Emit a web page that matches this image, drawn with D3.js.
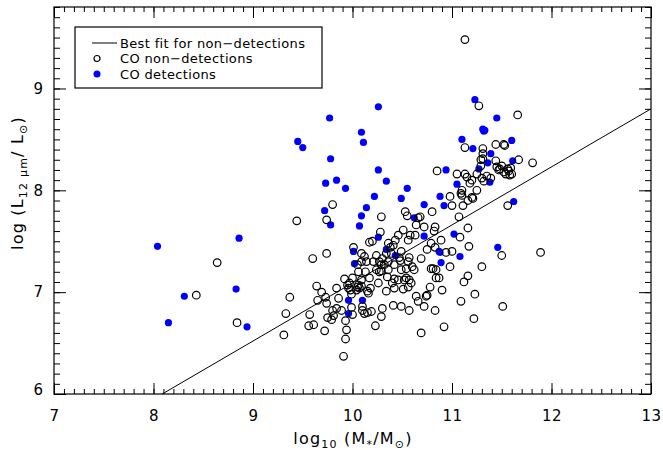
<!DOCTYPE html>
<html>
<head>
<meta charset="utf-8">
<script src="https://d3js.org/d3.v7.min.js"></script>
<style>
  body { margin: 0; background: #fff; }
  svg text { font-family: "DejaVu Sans", sans-serif; fill: #000; }
</style>
</head>
<body>
<svg id="chart" width="663" height="450"></svg>
<script>
const MARGIN = {top: 7, right: 12, bottom: 56, left: 54}
const WIDTH = 663 - MARGIN.left - MARGIN.right
const HEIGHT = 450 - MARGIN.top - MARGIN.bottom

// axis ranges and ticks
const xDomain = [7, 13]
const yDomain = [6, 9.8]
const xTicks = [7, 8, 9, 10, 11, 12, 13]
const yTicks = [6, 7, 8, 9]

// best fit for non-detections: y = slope * x + intercept
const fitSlope = 0.57
const fitIntercept = 1.39

// [log M*, log L12] for CO detections
const detections = [
    [8.04,7.45],[8.15,6.70],[8.31,6.96],[8.83,7.03],[8.86,7.53],[8.94,6.66],
    [9.45,8.48],[9.50,8.42],[9.77,8.71],[9.78,8.31],[9.73,8.07],[9.84,8.10],[9.93,8.02],[9.72,7.80],[9.78,7.66],
    [10.26,8.82],[10.09,8.57],[10.11,8.47],[10.26,8.20],[10.34,8.09],[10.22,7.94],[10.14,7.83],[10.09,7.75],[10.07,7.65],
    [10.55,8.02],[10.49,7.92],[10.62,7.73],[10.26,7.54],[10.34,7.42],[10.43,7.36],[10.01,7.40],[10.02,7.28],
    [9.96,6.92],[10.10,6.92],[9.96,6.79],
    [10.72,7.55],[10.72,7.86],[10.88,7.94],[10.92,7.85],[10.94,8.20],[11.05,8.06],[10.87,7.40],[10.88,7.39],[10.89,7.29],[11.02,7.57],[11.08,7.35],
    [11.10,8.50],[11.23,8.89],[11.21,8.41],[11.31,8.60],[11.33,8.59],[11.32,8.58],[11.45,8.71],[11.60,8.49],[11.39,8.36],[11.36,8.27],
    [11.27,8.21],[11.38,8.08],[11.61,8.29],[11.62,7.89],[11.46,7.44]
]

// [log M*, log L12] for CO non-detections
const nonDetections = [
    [8.43,6.97],[8.64,7.29],[8.84,6.70],[9.31,6.58],[9.33,6.79],[9.37,6.95],[9.44,7.70],[9.56,6.67],[9.57,6.78],[9.60,7.33],
    [9.61,6.68],[9.64,7.06],[9.65,6.92],[9.69,7.00],[9.72,6.62],
    [9.73,6.95],[9.74,6.89],[9.74,7.38],[9.74,7.71],[9.75,6.75],[9.79,6.73],[9.80,7.86],[9.80,6.82],[9.81,6.77],[9.84,7.04],
    [9.84,6.84],[9.86,6.94],[9.89,6.82],[9.92,7.13],[9.93,6.72],[9.94,6.63],[9.93,6.54],[9.91,6.37],[9.95,7.07],[9.96,7.04],
    [9.97,7.09],[9.98,7.02],[9.99,6.85],[10.00,6.78],[10.01,7.44],[10.00,7.14],[9.99,6.98],
    [10.04,7.02],[10.05,7.05],[10.06,7.07],[10.07,7.04],[10.09,7.06],[10.06,7.20],[10.09,7.12],[10.05,7.27],[10.09,7.30],
    [10.09,7.38],[10.12,7.35],[10.13,7.20],[10.14,7.30],[10.17,7.14],[10.15,7.01],[10.16,6.99],[10.18,7.04],[10.10,6.86],
    [10.12,6.79],[10.10,6.82],[10.19,6.81],[10.15,6.80],[10.17,7.49],[10.20,7.50],[10.21,7.30],[10.24,7.36],[10.24,7.22],
    [10.26,7.09],[10.27,7.30],[10.27,7.20],[10.23,6.67],[10.29,6.76],[10.28,7.59],[10.29,7.74],[10.29,7.27],[10.30,7.33],
    [10.32,7.27],[10.34,7.38],[10.34,7.01],[10.36,7.30],[10.36,7.22],[10.36,7.48],[10.38,7.44],[10.39,7.38],[10.41,7.46],
    [10.41,6.87],[10.42,7.27],[10.42,7.13],[10.42,7.04],[10.43,7.51],[10.46,7.56],[10.46,7.12],[10.48,7.31],[10.49,7.40],
    [10.49,7.22],[10.49,6.86],[10.51,7.61],[10.51,7.03],[10.52,7.12],[10.53,7.79],[10.54,7.23],[10.55,7.75],[10.56,7.51],
    [10.56,7.30],[10.56,7.05],[10.57,7.34],[10.57,7.12],[10.57,6.82],[10.58,7.56],[10.59,7.09],[10.62,7.22],[10.63,7.56],
    [10.64,7.66],[10.64,6.96],[10.66,6.91],[10.66,7.73],[10.69,7.33],[10.69,6.60],[10.72,7.64],[10.72,6.86],[10.74,6.96],
    [10.68,7.74],[10.40,7.09],[10.35,7.15],[10.29,7.21],[10.47,7.34],[10.60,7.25],[10.54,7.14],[10.30,6.84],
    [10.75,7.42],[10.75,6.97],[10.78,7.05],[10.79,7.48],[10.79,7.23],[10.80,7.79],[10.81,7.23],[10.82,7.60],[10.83,7.44],
    [10.83,6.82],[10.84,7.14],[10.85,8.19],[10.83,7.64],[10.89,7.51],[10.90,7.02],[10.92,6.66],[10.94,7.39],[10.98,7.94],
    [10.98,7.25],[11.00,7.85],[11.00,7.40],[11.05,8.16],[11.07,7.74],[11.08,7.54],[11.09,7.97],[11.09,6.91],[11.10,8.00],
    [11.10,7.95],[11.11,7.85],[11.12,7.10],[11.13,8.42],[11.13,9.48],[11.13,8.16],[11.15,8.13],[11.16,7.90],[11.16,7.63],
    [11.16,7.16],[11.17,7.45],[11.18,8.07],[11.20,8.10],[11.20,7.93],[11.21,7.92],[11.22,6.74],[11.23,6.98],[11.25,8.16],
    [11.25,8.00],[11.27,8.83],[11.29,8.24],[11.29,8.30],[11.30,8.12],[11.30,7.25],[11.31,8.41],[11.31,8.36],[11.31,8.31],
    [11.32,8.09],[11.35,8.14],[11.39,8.12],[11.44,8.45],[11.44,8.29],[11.45,8.23],[11.48,8.21],[11.50,8.24],[11.50,7.36],
    [11.51,6.86],[11.52,8.45],[11.53,8.44],[11.52,8.18],[11.54,8.16],[11.56,8.21],[11.56,7.85],[11.57,8.19],[11.58,8.15],
    [11.59,8.22],[11.60,8.16],[11.66,8.74],[11.67,8.30],[11.81,8.27],[11.89,7.39],[11.47,8.20],[10.87,7.14],[10.84,7.22]
]

const legendItems = ['Best fit for non\u2212detections', 'CO non\u2212detections', 'CO detections']

let svg = d3.select('#chart')
let g = svg.append('g')
    .attr('transform', 'translate(' + MARGIN.left + ',' + MARGIN.top + ')')

let x = d3.scaleLinear().domain(xDomain).range([0, WIDTH])
let y = d3.scaleLinear().domain(yDomain).range([HEIGHT, 0])

let xMinor = d3.range(70, 131).map(d => d / 10)
let yMinor = d3.range(60, 99).map(d => d / 10)

g.append('clipPath')
    .attr('id', 'plotClip')
    .append('rect')
    .attr('width', WIDTH)
    .attr('height', HEIGHT)

// minor ticks, all four sides, pointing inward
function styleAxis(sel) {
    sel.select('.domain').remove()
    sel.selectAll('.tick line').attr('stroke', '#000').attr('stroke-width', 1)
}

g.append('g').attr('transform', 'translate(0,' + HEIGHT + ')')
    .call(d3.axisBottom(x).tickValues(xMinor).tickSize(-5).tickFormat(''))
    .call(styleAxis)
g.append('g')
    .call(d3.axisTop(x).tickValues(xMinor).tickSize(-5).tickFormat(''))
    .call(styleAxis)
g.append('g')
    .call(d3.axisLeft(y).tickValues(yMinor).tickSize(-6).tickFormat(''))
    .call(styleAxis)
g.append('g').attr('transform', 'translate(' + WIDTH + ',0)')
    .call(d3.axisRight(y).tickValues(yMinor).tickSize(-6).tickFormat(''))
    .call(styleAxis)

// major ticks
let xAxis = g.append('g').attr('transform', 'translate(0,' + HEIGHT + ')')
    .call(d3.axisBottom(x).tickValues(xTicks).tickSize(-11).tickPadding(16).tickFormat(d3.format('d')))
    .call(styleAxis)
xAxis.selectAll('text')
    .style('font-size', '15px')
    .style('letter-spacing', '0.5px')
    .style('font-family', '"DejaVu Sans", sans-serif')

g.append('g')
    .call(d3.axisTop(x).tickValues(xTicks).tickSize(-11).tickFormat(''))
    .call(styleAxis)

let yAxis = g.append('g')
    .call(d3.axisLeft(y).tickValues(yTicks).tickSize(-12).tickPadding(11).tickFormat(d3.format('d')))
    .call(styleAxis)
yAxis.selectAll('text').style('font-size', '15px').style('font-family', '"DejaVu Sans", sans-serif')
yAxis.selectAll('.tick').filter(d => d === yDomain[0]).select('text').attr('dy', '0.0em')

g.append('g').attr('transform', 'translate(' + WIDTH + ',0)')
    .call(d3.axisRight(y).tickValues(yTicks).tickSize(-12).tickFormat(''))
    .call(styleAxis)

// frame
g.append('rect')
    .attr('width', WIDTH)
    .attr('height', HEIGHT)
    .attr('fill', 'none')
    .attr('stroke', '#000')
    .attr('stroke-width', 1.2)

// best fit line
g.append('line')
    .attr('clip-path', 'url(#plotClip)')
    .attr('x1', x(xDomain[0]))
    .attr('y1', y(fitSlope * xDomain[0] + fitIntercept))
    .attr('x2', x(xDomain[1]))
    .attr('y2', y(fitSlope * xDomain[1] + fitIntercept))
    .attr('stroke', '#000')
    .attr('stroke-width', 1)

// CO detections
g.append('g')
    .selectAll('circle')
    .data(detections)
    .enter()
    .append('circle')
    .attr('cx', d => x(d[0]))
    .attr('cy', d => y(d[1]))
    .attr('r', 3.6)
    .attr('fill', '#0000ff')

// CO non-detections
g.append('g')
    .selectAll('circle')
    .data(nonDetections)
    .enter()
    .append('circle')
    .attr('cx', d => x(d[0]))
    .attr('cy', d => y(d[1]))
    .attr('r', 3.8)
    .attr('fill', 'none')
    .attr('stroke', '#000')
    .attr('stroke-width', 1.2)

// legend
let legend = svg.append('g').attr('transform', 'translate(75,27)')
legend.append('rect')
    .attr('width', 247)
    .attr('height', 61)
    .attr('fill', '#fff')
    .attr('stroke', '#000')
    .attr('stroke-width', 1.2)

let rows = legend.selectAll('g.row')
    .data(legendItems)
    .enter()
    .append('g')
    .attr('class', 'row')
    .attr('transform', (d, i) => 'translate(0,' + (16 + i * 15.5) + ')')

rows.filter((d, i) => i === 0).append('line')
    .attr('x1', 17).attr('x2', 42)
    .attr('stroke', '#000').attr('stroke-width', 1)
rows.filter((d, i) => i === 1).append('circle')
    .attr('cx', 22).attr('r', 3)
    .attr('fill', 'none').attr('stroke', '#000').attr('stroke-width', 1.2)
rows.filter((d, i) => i === 2).append('circle')
    .attr('cx', 22).attr('r', 3.5)
    .attr('fill', '#0000ff')

rows.append('text')
    .attr('x', 45)
    .attr('dy', '0.36em')
    .style('font-size', '13px')
    .style('letter-spacing', '0.35px')
    .text(d => d)

// axis titles
let xTitle = svg.append('text')
    .attr('x', 353)
    .attr('y', 444)
    .attr('text-anchor', 'middle')
    .style('font-size', '16px')
    .style('letter-spacing', '1.2px')
xTitle.append('tspan').text('log')
xTitle.append('tspan').attr('dy', 4).style('font-size', '11px').text('10')
xTitle.append('tspan').attr('dy', -4).text(' (M')
xTitle.append('tspan').attr('dy', 4).style('font-size', '11px').text('*')
xTitle.append('tspan').attr('dy', -4).text('/M')
xTitle.append('tspan').attr('dy', 4).style('font-size', '11px').text('\u2299')
xTitle.append('tspan').attr('dy', -4).text(')')

let yTitle = svg.append('text')
    .attr('transform', 'translate(23,183) rotate(-90)')
    .attr('text-anchor', 'middle')
    .style('font-size', '16px')
    .style('letter-spacing', '1.2px')
yTitle.append('tspan').text('log  (L')
yTitle.append('tspan').attr('dy', 4).style('font-size', '11px').text('12 \u03bcm')
yTitle.append('tspan').attr('dy', -4).text('/  L')
yTitle.append('tspan').attr('dy', 4).style('font-size', '11px').text('\u2299')
yTitle.append('tspan').attr('dy', -4).text(')')
</script>
</body>
</html>
